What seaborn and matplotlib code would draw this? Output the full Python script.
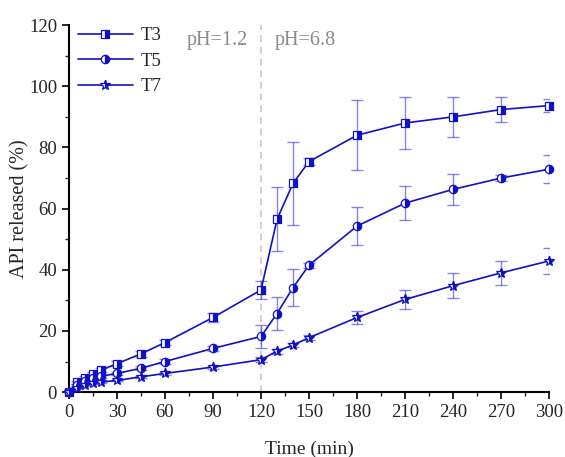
import numpy as np
import pandas as pd
import matplotlib
matplotlib.use("Agg")
import matplotlib.pyplot as plt
import seaborn as sns

time = [0, 5, 10, 15, 20, 30, 45, 60, 90, 120, 130, 140, 150, 180, 210, 240, 270, 300]
t3 = [0, 3.2, 4.6, 6.0, 7.2, 9.3, 12.5, 16.2, 24.4, 33.4, 56.5, 68.3, 75.4, 84.0, 88.0, 90.0, 92.4, 93.7]
t3_err = [0, 0.5, 0.6, 0.6, 0.6, 0.8, 1.0, 0.8, 1.5, 3.0, 10.5, 13.6, 1.2, 11.5, 8.5, 6.5, 4.0, 2.0]
t5 = [0, 2.3, 3.6, 4.6, 5.2, 6.1, 7.8, 10.0, 14.3, 18.2, 25.7, 34.2, 41.5, 54.3, 61.8, 66.3, 70.0, 72.9]
t5_err = [0, 0.3, 0.4, 0.4, 0.5, 0.5, 0.6, 0.7, 0.8, 3.8, 5.4, 6.0, 0.8, 6.3, 5.6, 5.0, 1.0, 4.5]
t7 = [0, 1.3, 2.3, 2.9, 3.3, 3.8, 5.0, 6.1, 8.2, 10.6, 13.4, 15.4, 17.8, 24.4, 30.3, 34.8, 39.0, 42.9]
t7_err = [0, 0.2, 0.3, 0.3, 0.3, 0.3, 0.4, 0.4, 0.5, 0.8, 0.8, 0.8, 0.8, 2.2, 3.0, 4.0, 4.0, 4.3]
labels = ["T3", "T5", "T7"]
xticks = [0, 30, 60, 90, 120, 150, 180, 210, 240, 270, 300]
yticks = [0, 20, 40, 60, 80, 100, 120]

sns.set_style("ticks")
plt.rcParams["font.family"] = ["Liberation Serif", "DejaVu Serif"]

fig = plt.figure(figsize=(5.65, 4.57), dpi=100)
ax = fig.add_axes([0.122, 0.142, 0.85, 0.803])

blue = "#1010c8"
series = [(t3, t3_err, "s"), (t5, t5_err, "o"), (t7, t7_err, "*")]
for (vals, errs, mk), lab in zip(series, labels):
    df = pd.DataFrame({"Time": time, "Value": vals})
    ax.errorbar(time, vals, yerr=errs, fmt="none", ecolor=blue, alpha=0.5,
                elinewidth=1.0, capsize=4, capthick=1.0, zorder=2)
    sns.lineplot(data=df, x="Time", y="Value", ax=ax, color=blue, lw=1.2,
                 marker=mk, markersize=6 if mk != "*" else 7.5, fillstyle="right",
                 markerfacecoloralt="white", markeredgecolor=blue,
                 markeredgewidth=0.9, label=lab, clip_on=False, zorder=3)

ax.axvline(120, color="#c8c8c8", ls=(0, (4, 3)), lw=1.2, zorder=1)
ax.text(92.5, 115, "pH=1.2", color="#8a8a8a", fontsize=14.5, ha="center", va="center")
ax.text(147.5, 115, "pH=6.8", color="#8a8a8a", fontsize=14.5, ha="center", va="center")

ax.set_xlim(0, 300)
ax.set_ylim(0, 120)
ax.set_xticks(xticks)
ax.set_yticks(yticks)
ax.set_xticks(np.arange(15, 300, 30), minor=True)
ax.set_yticks(np.arange(10, 120, 20), minor=True)
ax.tick_params(axis="both", which="major", direction="out", length=5, width=1.2, labelsize=13.5, color="black")
ax.tick_params(axis="both", which="minor", direction="out", length=3, width=1.0)
for s in ["left", "bottom"]:
    ax.spines[s].set_linewidth(1.5)
    ax.spines[s].set_color("black")
ax.spines["top"].set_visible(False)
ax.spines["right"].set_visible(False)

ax.set_xlabel("Time (min)", fontsize=14, labelpad=14)
ax.set_ylabel("API released (%)", fontsize=14.5)
ax.yaxis.set_label_coords(-0.083, 0.5)

leg = ax.legend(loc="upper left", frameon=False, fontsize=13.5, handlelength=2.9,
                borderaxespad=0.1, labelspacing=0.45, handletextpad=0.4,
                bbox_to_anchor=(0.0, 1.02))

fig.savefig("out.png", dpi=100)
